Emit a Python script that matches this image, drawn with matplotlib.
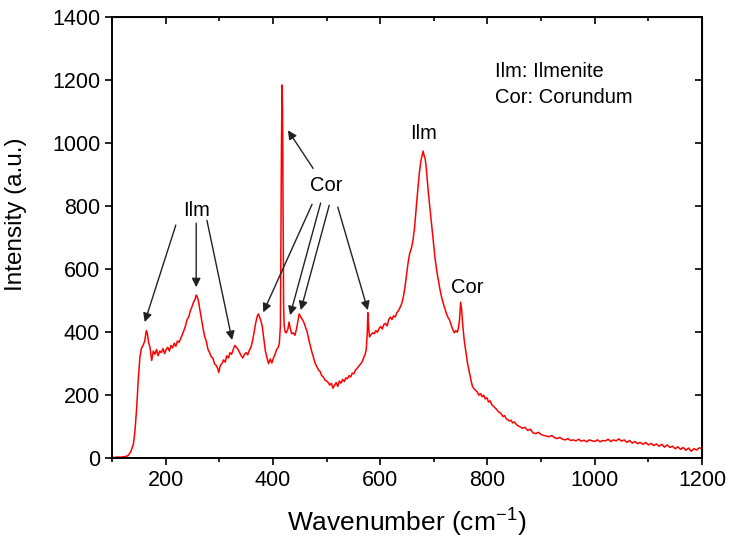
import matplotlib.pyplot as plt

plt.rcParams['font.family'] = ['Liberation Sans', 'DejaVu Sans']
plt.rcParams['mathtext.fontset'] = 'custom'
plt.rcParams['mathtext.rm'] = 'Liberation Sans'

# Raman spectrum (wavenumber, intensity)
wavenumber = [
    100, 105, 110, 115, 120, 125, 130, 135, 140, 143, 146, 149, 152, 155, 158, 161, 164, 166, 168, 171,
    174, 177, 180, 183, 186, 189, 192, 195, 198, 201, 204, 207, 210, 213, 216, 219, 222, 225, 228, 231,
    234, 237, 240, 243, 246, 249, 252, 255, 257, 259, 261, 264, 267, 270, 273, 276, 279, 282, 285, 288,
    291, 294, 297, 299, 302, 305, 308, 311, 314, 317, 320, 323, 326, 329, 332, 335, 338, 341, 344, 347,
    350, 353, 356, 359, 362, 365, 368, 371, 373, 375, 377, 380, 383, 386, 389, 392, 395, 398, 401, 404,
    407, 410, 412, 414, 415, 416, 417, 418, 419, 420, 421, 423, 425, 428, 430, 432, 435, 438, 441, 444,
    447, 449, 452, 455, 458, 461, 464, 467, 470, 473, 476, 479, 482, 485, 488, 491, 494, 497, 500, 503,
    506, 509, 512, 515, 518, 521, 524, 527, 530, 533, 536, 539, 542, 545, 548, 551, 554, 557, 560, 563,
    566, 569, 572, 574, 576, 577, 578, 580, 583, 586, 589, 592, 595, 598, 601, 604, 607, 610, 613, 616,
    619, 622, 625, 628, 631, 634, 637, 640, 643, 646, 649, 652, 655, 658, 661, 664, 667, 670, 673, 676,
    679, 680, 682, 684, 686, 688, 690, 693, 696, 699, 702, 705, 708, 711, 714, 717, 720, 723, 726, 729,
    732, 735, 738, 741, 744, 746, 748, 750, 752, 754, 757, 760, 763, 766, 769, 772, 775, 778, 781, 784,
    787, 790, 793, 796, 799, 802, 805, 808, 811, 814, 817, 820, 823, 826, 829, 832, 835, 838, 841, 844,
    847, 850, 855, 860, 865, 870, 875, 880, 885, 890, 895, 900, 905, 910, 915, 920, 925, 930, 935, 940,
    945, 950, 955, 960, 965, 970, 975, 980, 985, 990, 995, 1000, 1005, 1010, 1015, 1020, 1025, 1030, 1035, 1040,
    1045, 1050, 1055, 1060, 1065, 1070, 1075, 1080, 1085, 1090, 1095, 1100, 1105, 1110, 1115, 1120, 1125, 1130, 1135, 1140,
    1145, 1150, 1155, 1160, 1165, 1170, 1175, 1180, 1185, 1190, 1195, 1200,
]
intensity = [
    3, 2, 4, 3, 4, 5, 8, 20, 45, 90, 160, 250, 320, 350, 358, 372, 405, 395, 370, 350,
    310, 340, 330, 345, 325, 340, 335, 348, 332, 345, 352, 340, 358, 350, 365, 355, 372, 368, 380, 392,
    405, 420, 440, 448, 468, 480, 495, 505, 518, 512, 500, 470, 440, 410, 385, 370, 345, 335, 322, 318,
    300, 295, 285, 272, 295, 300, 312, 305, 325, 318, 335, 330, 345, 358, 352, 345, 335, 325, 318, 330,
    335, 328, 342, 352, 372, 400, 430, 452, 458, 448, 440, 420, 380, 340, 318, 300, 315, 302, 318, 330,
    345, 352, 365, 420, 700, 1000, 1185, 1100, 800, 480, 420, 400, 398, 410, 432, 415, 395, 398, 390, 410,
    440, 458, 448, 440, 430, 415, 400, 375, 355, 335, 318, 300, 290, 280, 275, 262, 258, 248, 245, 240,
    232, 238, 222, 232, 240, 228, 245, 238, 250, 243, 255, 252, 262, 258, 270, 268, 280, 285, 292, 298,
    305, 318, 330, 345, 400, 462, 430, 385, 392, 398, 395, 405, 400, 412, 418, 410, 425, 428, 420, 440,
    448, 440, 452, 448, 462, 468, 478, 490, 510, 540, 580, 620, 650, 665, 690, 730, 790, 850, 905, 945,
    968, 975, 960, 950, 920, 880, 840, 790, 740, 690, 640, 600, 570, 540, 515, 495, 478, 462, 448, 440,
    425, 410, 398, 405, 400, 415, 440, 495, 470, 420, 370, 335, 300, 275, 250, 228, 220, 215, 210, 200,
    205, 195, 200, 188, 192, 178, 182, 170, 165, 160, 155, 148, 145, 140, 132, 135, 125, 122, 118, 120,
    112, 115, 105, 100, 95, 98, 88, 92, 80, 78, 82, 75, 72, 70, 68, 72, 65, 62, 66, 60,
    58, 62, 56, 58, 55, 60, 54, 57, 52, 58, 55, 53, 58, 52, 56, 55, 60, 53, 58, 55,
    61, 54, 58, 50, 56, 48, 53, 46, 50, 44, 50, 42, 47, 40, 45, 38, 44, 35, 42, 34,
    38, 30, 36, 28, 34, 25, 32, 22, 30, 26, 33, 30,
]

# annotation labels: (text, x, y)
labels = [("Ilm", 257, 787), ("Cor", 500, 867), ("Ilm", 680, 1032), ("Cor", 762, 543)]
# arrows: (start x, start y, tip x, tip y)
arrows = [
    (219, 740, 161, 432), (257, 746, 257, 543), (277, 755, 324, 375),
    (475, 920, 428, 1041), (473, 806, 382, 463), (489, 810, 432, 454),
    (505, 803, 452, 470), (521, 797, 577, 470),
]
legend_lines = ["Ilm: Ilmenite", "Cor: Corundum"]

fig = plt.figure(figsize=(7.32, 5.39), dpi=100)
ax = fig.add_axes([0.153, 0.150, 0.806, 0.818])
ax.plot(wavenumber, intensity, color='red', lw=1.1)

ax.set_xlim(100, 1200)
ax.set_ylim(0, 1400)
ax.set_xticks([200, 400, 600, 800, 1000, 1200])
ax.set_xticks([100, 300, 500, 700, 900, 1100], minor=True)
ax.set_yticks(range(0, 1401, 200))
ax.tick_params(axis='both', which='major', direction='out', length=5, width=1.2, labelsize=15.5)
ax.tick_params(axis='x', which='minor', direction='out', length=3, width=1.2)
for s in ax.spines.values():
    s.set_linewidth(1.4)

top = ax.secondary_xaxis('top')
top.set_xticks([200, 400, 600, 800, 1000, 1200])
top.set_xticks([100, 300, 500, 700, 900, 1100], minor=True)
top.tick_params(which='major', direction='in', length=5, width=1.2, labeltop=False)
top.tick_params(which='minor', direction='in', length=3, width=1.2)
right = ax.secondary_yaxis('right')
right.set_yticks(range(0, 1401, 200))
right.tick_params(direction='in', length=5, width=1.2, labelright=False)

ax.set_xlabel(r'Wavenumber (cm$^{\mathrm{-1}}$)', fontsize=19, labelpad=10)
ax.set_ylabel('Intensity (a.u.)', fontsize=17.5)
ax.yaxis.set_label_coords(-0.144, 0.553)

for txt, x, y in labels:
    ax.text(x, y, txt, ha='center', va='center', fontsize=14.5)
for x0, y0, x1, y1 in arrows:
    ax.annotate('', xy=(x1, y1), xytext=(x0, y0),
                arrowprops=dict(arrowstyle='-|>', color='#222222', lw=1.0,
                                mutation_scale=13, shrinkA=0, shrinkB=0))

ax.text(814, 1229, legend_lines[0], ha='left', va='center', fontsize=14.5)
ax.text(814, 1146, legend_lines[1], ha='left', va='center', fontsize=14.5)

fig.savefig('out.png', dpi=100)
